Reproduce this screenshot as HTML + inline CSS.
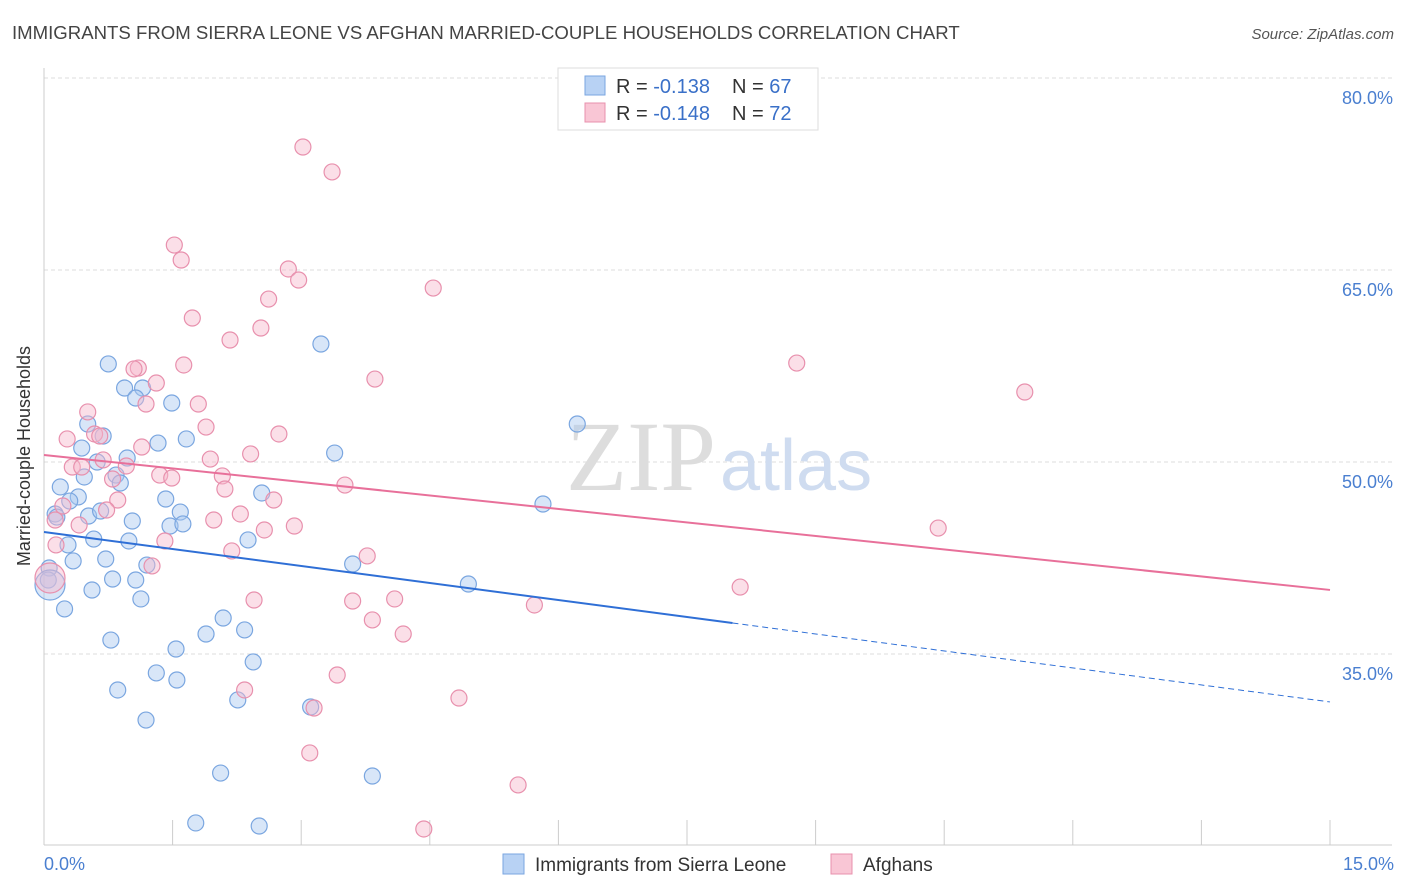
<!DOCTYPE html>
<html><head><meta charset="utf-8"><style>
body{margin:0;background:#fff;font-family:"Liberation Sans",sans-serif}
svg{display:block}
</style></head><body>
<svg id="chart" width="1406" height="892" viewBox="0 0 1406 892">
<text x="12" y="39" font-size="18.6" fill="#444">IMMIGRANTS FROM SIERRA LEONE VS AFGHAN MARRIED-COUPLE HOUSEHOLDS CORRELATION CHART</text>
<text x="1394" y="39" font-size="15" fill="#555" font-style="italic" text-anchor="end">Source: ZipAtlas.com</text>
<g id="grid"></g>
<text x="716" y="490" font-size="100" fill="#ddd" text-anchor="end" font-family="Liberation Serif,serif">ZIP</text>
<text x="720" y="490" font-size="72" fill="#cfdcf0">atlas</text>
<line x1="44" y1="68" x2="44" y2="845" stroke="#ccc"/>
<line x1="44" y1="845" x2="1392" y2="845" stroke="#ccc"/>
<g id="xticks"></g>
<g id="pts"></g>
<g id="lines"></g>
<text x="30" y="456" font-size="18" fill="#333" text-anchor="middle" transform="rotate(-90 30 456)">Married-couple Households</text>
<text x="44" y="870" font-size="18" fill="#4a7fd0">0.0%</text>
<text x="1394" y="870" font-size="18" fill="#4a7fd0" text-anchor="end">15.0%</text>
<g>
<rect x="558" y="68" width="260" height="62" fill="#fff" stroke="#ddd"/>
<rect x="585" y="76" width="20" height="19" fill="#b8d2f4" stroke="#7aa6e0"/>
<rect x="585" y="103" width="20" height="19" fill="#f9c6d5" stroke="#e890ad"/>
<text x="616" y="93" font-size="20" fill="#333">R = <tspan fill="#3a70c8">-0.138</tspan><tspan x="732">N = </tspan><tspan fill="#3a70c8">67</tspan></text>
<text x="616" y="120" font-size="20" fill="#333">R = <tspan fill="#3a70c8">-0.148</tspan><tspan x="732">N = </tspan><tspan fill="#3a70c8">72</tspan></text>
</g>
<g>
<rect x="503" y="854" width="21" height="20" fill="#b8d2f4" stroke="#7aa6e0"/>
<text x="535" y="871" font-size="19" fill="#333">Immigrants from Sierra Leone</text>
<rect x="831" y="854" width="21" height="20" fill="#f9c6d5" stroke="#e890ad"/>
<text x="863" y="871" font-size="19" fill="#333">Afghans</text>
</g>
</svg>
<script>
const yTicks=[80,65,50,35];
const xTickVals=[0,1.5,3,4.5,6,7.5,9,10.5,12,13.5,15];
const blueX=[0.75,0.94,1.15,1.07,1.49,3.23,6.22,0.51,0.69,0.44,1.33,1.66,3.39,0.97,0.62,0.47,0.19,0.40,0.30,0.84,0.89,1.42,2.54,5.82,0.13,0.52,0.66,1.03,1.59,1.47,1.62,0.28,0.58,0.99,2.38,0.34,0.72,1.20,3.60,0.06,0.05,0.80,1.07,0.56,1.13,4.95,0.24,2.09,2.34,1.89,0.78,1.54,2.44,1.31,1.55,0.86,2.26,3.11,1.19,2.06,3.83,1.77,2.51,0.15,0.07];
const blueY=[57.66,55.78,55.78,55.0,54.61,59.22,52.97,52.97,52.03,51.09,51.48,51.80,50.70,50.31,50.0,48.83,48.05,47.27,46.95,48.98,48.36,47.11,47.58,46.72,45.94,45.78,46.17,45.39,46.09,45.0,45.16,43.52,43.98,43.83,43.91,42.27,42.42,41.95,42.03,41.72,40.78,40.86,40.78,40.0,39.30,40.47,38.52,37.81,36.88,36.56,36.09,35.39,34.38,33.52,32.97,32.19,31.41,30.86,29.84,25.70,25.47,21.80,21.56,45.70,40.39];
const pinkX=[3.02,3.36,1.52,1.60,2.85,2.97,2.62,4.54,1.73,2.53,2.17,8.78,1.63,1.10,1.05,3.86,1.31,11.44,1.80,1.19,0.51,1.89,2.74,0.27,0.59,0.65,1.14,2.41,1.94,0.33,0.44,0.69,0.96,1.35,1.49,2.08,2.11,3.51,0.80,0.86,2.68,0.22,0.73,0.41,1.98,2.29,2.92,10.43,2.57,1.41,2.19,3.77,1.26,8.12,2.45,3.60,4.09,5.72,3.83,4.19,3.42,2.34,4.84,3.15,3.10,5.53,4.43,0.13,0.14,0.07];
const pinkY=[74.61,72.66,66.95,65.78,65.08,64.22,62.73,63.59,61.25,60.47,59.53,57.73,57.58,57.34,57.27,56.48,56.17,55.47,54.53,54.53,53.91,52.73,52.19,51.80,52.19,52.03,51.17,50.63,50.23,49.61,49.61,50.16,49.69,48.98,48.75,48.91,47.89,48.20,48.67,47.03,47.03,46.56,46.25,45.08,45.47,45.94,45.0,44.84,44.69,43.83,43.05,42.66,41.88,40.23,39.22,39.14,39.30,38.83,37.66,36.56,33.36,32.19,31.56,30.78,27.27,24.77,21.33,45.47,43.52,40.94];
const blueTrend=[44.53,-0.885];
const pinkTrend=[50.55,-0.703];
const NS="http://www.w3.org/2000/svg";
const sx=v=>44+v/15*1286;
const sy=v=>78+(80-v)*12.8;
function mk(t,a,p){const e=document.createElementNS(NS,t);for(const k in a)e.setAttribute(k,a[k]);p.appendChild(e);return e;}
const grid=document.getElementById('grid');
yTicks.forEach(v=>{
const l=mk('line',{x1:44,x2:1392,y1:sy(v),y2:sy(v),stroke:'#ddd','stroke-dasharray':'4,3'},grid);


const t=mk('text',{x:1393,y:sy(v)+26,'font-size':18,fill:'#4a7fd0','text-anchor':'end'},grid);
t.textContent=v.toFixed(1)+'%';


});
const xt=document.getElementById('xticks');
xTickVals.forEach(v=>{
const l=mk('line',{x1:sx(v),x2:sx(v),y1:820,y2:845,stroke:'#ccc'},xt);


});
const pts=document.getElementById('pts');
function draw(xs,ys,fill,stroke,name){
xs.forEach((x,i)=>{
const big=i===xs.length-1;
const c=mk('circle',{cx:sx(x),cy:sy(ys[i]),r:big?15:8,fill:fill,'fill-opacity':0.45,stroke:stroke,'stroke-width':1.2},pts);


});
}
draw(blueX,blueY,'#a9c8f0','#7aa6e0','point-sierra-leone');
draw(pinkX,pinkY,'#f7b8cc','#e890ad','point-afghans');
const lines=document.getElementById('lines');
const bEnd=8.03;
let l=mk('line',{x1:sx(0),y1:sy(blueTrend[0]),x2:sx(bEnd),y2:sy(blueTrend[0]+blueTrend[1]*bEnd),stroke:'#2f6fd6','stroke-width':2},lines);


l=mk('line',{x1:sx(bEnd),y1:sy(blueTrend[0]+blueTrend[1]*bEnd),x2:sx(15),y2:sy(blueTrend[0]+blueTrend[1]*15),stroke:'#2f6fd6','stroke-width':1,'stroke-dasharray':'6,4'},lines);


l=mk('line',{x1:sx(0),y1:sy(pinkTrend[0]),x2:sx(15),y2:sy(pinkTrend[0]+pinkTrend[1]*15),stroke:'#e8709a','stroke-width':2},lines);


</script>
</body></html>
